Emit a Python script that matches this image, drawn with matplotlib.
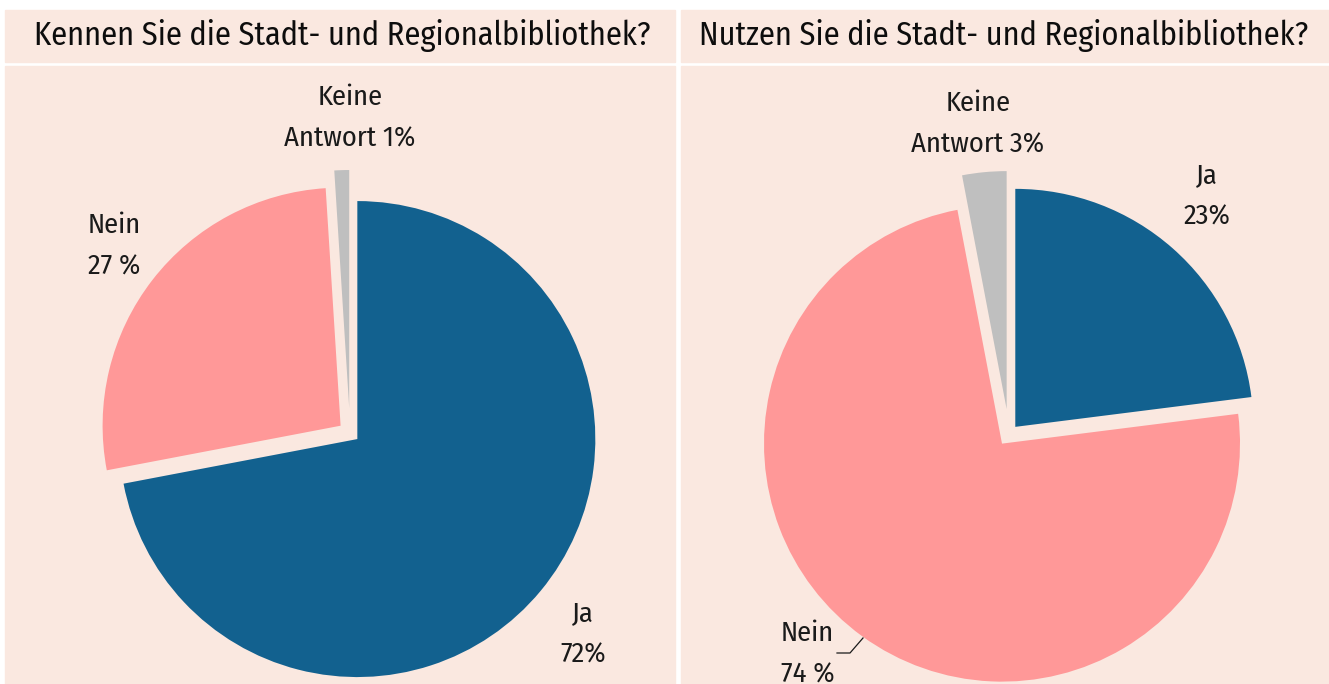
import matplotlib
matplotlib.use("Agg")
import matplotlib.pyplot as plt
from matplotlib.patches import Rectangle
from matplotlib.lines import Line2D

# Daten
titel = ["Kennen Sie die Stadt- und Regionalbibliothek?",
         "Nutzen Sie die Stadt- und Regionalbibliothek?"]
kategorien = ["Ja", "Nein", "Keine Antwort"]
kennen = [72, 27, 1]
nutzen = [23, 74, 3]
label_kennen = ["Ja\n72%", "Nein\n27 %", "Keine\nAntwort 1%"]
label_nutzen = ["Ja\n23%", "Nein\n74 %", "Keine\nAntwort 3%"]

farben = ["#12618F", "#FF9898", "#BFBFBF"]
hintergrund = "#FAE8E0"
explode = [0.04, 0.05, 0.105]

W, H = 1329, 684
fig = plt.figure(figsize=(W / 100, H / 100), dpi=100)
fig.patch.set_facecolor("white")

FONT = ["Fira Sans Condensed", "DejaVu Sans"]


def fx(x):
    return x / W


def fy(y):
    return 1 - y / H


# Panels (Kopf + Körper), hinter den Torten
for x0, x1 in [(5, 675), (681, 1329)]:
    fig.patches.append(Rectangle((fx(x0), fy(62)), (x1 - x0) / W, 52 / H,
                                 transform=fig.transFigure, color=hintergrund, zorder=-1))
    fig.patches.append(Rectangle((fx(x0), fy(H)), (x1 - x0) / W, (H - 66) / H,
                                 transform=fig.transFigure, color=hintergrund, zorder=-1))

fig.text(fx(342), fy(36), titel[0], ha="center", va="center", fontsize=23.3,
         family=FONT, color="#0d0d0d")
fig.text(fx(1004), fy(36), titel[1], ha="center", va="center", fontsize=23.3,
         family=FONT, color="#0d0d0d")


def torte(cx, cy, r, werte):
    groesse = 2 * 1.25 * r
    ax = fig.add_axes([fx(cx - groesse / 2), (H - cy - groesse / 2) / H, groesse / W, groesse / H])
    ax.pie(werte, colors=farben, startangle=90, counterclock=False, explode=explode,
           wedgeprops=dict(linewidth=0))
    ax.set_xlim(-1.25, 1.25)
    ax.set_ylim(-1.25, 1.25)
    ax.set_aspect("equal")
    ax.axis("off")
    return ax


torte(350, 433, 238, kennen)
torte(1009, 434, 238, nutzen)

txt = dict(fontsize=20.5, family=FONT, fontweight="normal", color="#1a1a1a",
           va="center", linespacing=1.7, zorder=5)
fig.text(fx(583), fy(634), label_kennen[0], ha="center", multialignment="center", **txt)
fig.text(fx(88), fy(246), label_kennen[1], ha="left", multialignment="left", **txt)
fig.text(fx(350), fy(118), label_kennen[2], ha="center", multialignment="center", **txt)

fig.text(fx(1207), fy(196), label_nutzen[0], ha="center", multialignment="center", **txt)
fig.text(fx(781), fy(654), label_nutzen[1], ha="left", multialignment="left", **txt)
fig.text(fx(978), fy(124), label_nutzen[2], ha="center", multialignment="center", **txt)

# Führungslinie für "Nein 74 %"
fig.add_artist(Line2D([fx(837), fx(850), fx(863)], [fy(653), fy(653), fy(638)],
                      transform=fig.transFigure, color="#1a1a1a", linewidth=0.9))

fig.savefig("out.png", dpi=100)
